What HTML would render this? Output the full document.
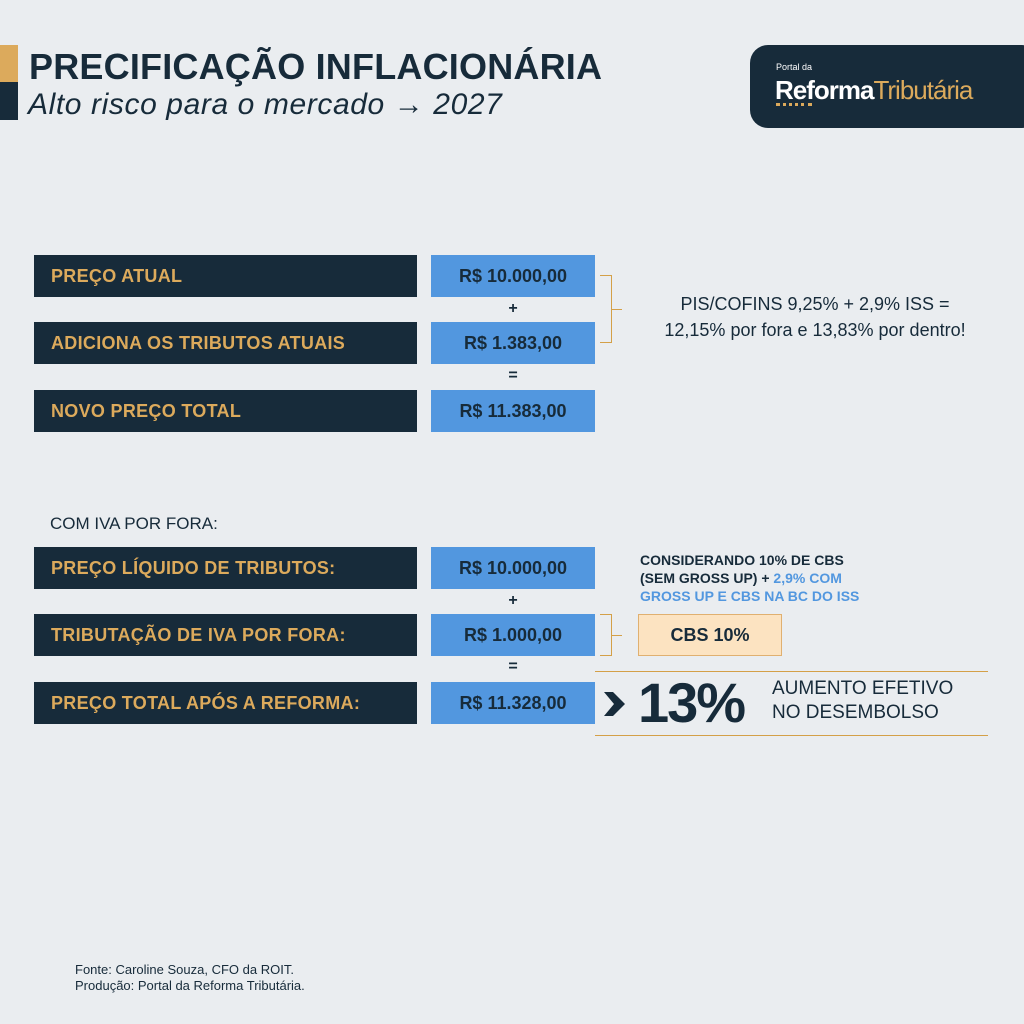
<!DOCTYPE html>
<html><head><meta charset="utf-8"><style>
*{margin:0;padding:0;box-sizing:border-box}
body{width:1024px;height:1024px;background:#eaedf0;position:relative;overflow:hidden;font-family:"Liberation Sans",sans-serif;color:#172b3a}
.a{position:absolute}
.d{position:absolute;left:34px;width:383px;height:42px;background:#172b3a;color:#dcaa5c;font-weight:bold;font-size:18px;line-height:42px;padding-left:17px;letter-spacing:0.3px}
.b{position:absolute;left:431px;width:164px;height:42px;background:#5297df;color:#172b3a;font-weight:bold;font-size:18px;line-height:42px;text-align:center}
.s{position:absolute;left:503px;width:20px;text-align:center;font-weight:bold;font-size:16px}
.g{border-color:#d4a048 !important}
</style></head><body>
<div class="a" style="left:0;top:45px;width:18px;height:37px;background:#dcaa5c"></div>
<div class="a" style="left:0;top:82px;width:18px;height:38px;background:#172b3a"></div>
<div class="a" style="left:29px;top:46px;font-size:36px;font-weight:bold;letter-spacing:0.2px;color:#172b3a">PRECIFICAÇÃO INFLACIONÁRIA</div>
<div class="a" style="left:28px;top:88px;font-size:30px;font-style:italic;letter-spacing:0.6px;color:#172b3a">Alto risco para o mercado → 2027</div>
<div class="a" style="left:750px;top:45px;width:290px;height:83px;background:#172b3a;border-radius:18px"></div>
<div class="a" style="left:776px;top:62px;font-size:9px;color:#fff">Portal da</div>
<div class="a" style="left:775px;top:75px;font-size:26px;color:#fff;letter-spacing:-1px"><b>Reforma</b><span style="color:#dcaa5c">Tributária</span></div>
<div class="a" style="left:776px;top:103px;width:36px;border-top:3px dotted #dcaa5c"></div>

<div class="d" style="top:255px">PREÇO ATUAL</div>
<div class="b" style="top:255px">R$ 10.000,00</div>
<div class="s" style="top:300px">+</div>
<div class="d" style="top:322px">ADICIONA OS TRIBUTOS ATUAIS</div>
<div class="b" style="top:322px">R$ 1.383,00</div>
<div class="s" style="top:367px">=</div>
<div class="d" style="top:390px">NOVO PREÇO TOTAL</div>
<div class="b" style="top:390px">R$ 11.383,00</div>
<div class="a g" style="left:600px;top:275px;width:12px;height:68px;border:1px solid;border-left:none"></div>
<div class="a g" style="left:612px;top:309px;width:10px;border-top:1px solid"></div>
<div class="a" style="left:630px;top:291px;width:370px;text-align:center;font-size:18px;line-height:26px">PIS/COFINS 9,25% + 2,9% ISS =<br>12,15% por fora e 13,83% por dentro!</div>

<div class="a" style="left:50px;top:514px;font-size:17px">COM IVA POR FORA:</div>
<div class="d" style="top:547px">PREÇO LÍQUIDO DE TRIBUTOS:</div>
<div class="b" style="top:547px">R$ 10.000,00</div>
<div class="s" style="top:592px">+</div>
<div class="d" style="top:614px">TRIBUTAÇÃO DE IVA POR FORA:</div>
<div class="b" style="top:614px">R$ 1.000,00</div>
<div class="s" style="top:658px">=</div>
<div class="d" style="top:682px">PREÇO TOTAL APÓS A REFORMA:</div>
<div class="b" style="top:682px">R$ 11.328,00</div>

<div class="a" style="left:640px;top:551px;font-size:14px;font-weight:bold;line-height:18px">CONSIDERANDO 10% DE CBS<br>(SEM GROSS UP) + <span style="color:#5297df">2,9% COM</span><br><span style="color:#5297df">GROSS UP E CBS NA BC DO ISS</span></div>
<div class="a g" style="left:600px;top:614px;width:12px;height:42px;border:1px solid;border-left:none"></div>
<div class="a g" style="left:612px;top:635px;width:10px;border-top:1px solid"></div>
<div class="a" style="left:638px;top:614px;width:144px;height:42px;background:#fce3c1;border:1px solid #e0b070;text-align:center;line-height:40px;font-weight:bold;font-size:18px">CBS 10%</div>
<div class="a g" style="left:595px;top:671px;width:393px;border-top:1px solid"></div>
<div class="a g" style="left:595px;top:735px;width:393px;border-top:1px solid"></div>
<svg class="a" style="left:604px;top:692px" width="22" height="24"><polygon points="0,0 9,0 21,12 9,24 0,24 10,12" fill="#172b3a"/></svg>
<div class="a" style="left:638px;top:671px;font-size:56px;font-weight:900;letter-spacing:-2px;line-height:64px">13%</div>
<div class="a" style="left:772px;top:677px;font-size:19px;line-height:24px">AUMENTO EFETIVO<br>NO DESEMBOLSO</div>

<div class="a" style="left:75px;top:962px;font-size:13px;line-height:16px">Fonte: Caroline Souza, CFO da ROIT.<br>Produção: Portal da Reforma Tributária.</div>
</body></html>
